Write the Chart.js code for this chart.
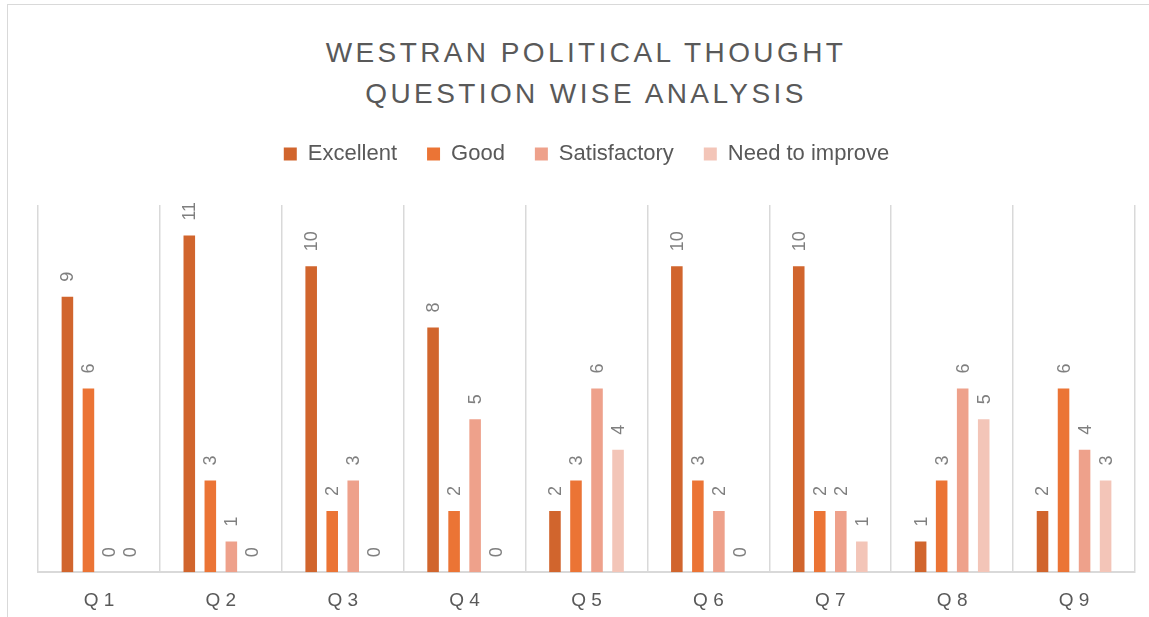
<!DOCTYPE html>
<html>
<head>
<meta charset="utf-8">
<script src="https://cdn.jsdelivr.net/npm/chart.js@4"></script>
<style>
  body { margin: 0; background: #fff; overflow: hidden; }
  #frame { position: absolute; left: 7px; top: 4px; width: 1200px; height: 700px; border: 1px solid #d9d9d9; }
  #title { position: absolute; left: 0; top: 32px; width: 1172px; text-align: center;
           font-family: "Liberation Sans", Arial, sans-serif; font-size: 28px; line-height: 41px;
           letter-spacing: 3.4px; color: #595959; }
  #wrap { position: absolute; left: 0; top: 0; width: 1149px; height: 617px; }
</style>
</head>
<body>
<div id="frame"></div>
<div id="title">WESTRAN POLITICAL THOUGHT<br>QUESTION WISE ANALYSIS</div>
<div id="wrap"><canvas id="chart" width="1149" height="617"></canvas></div>
<script>
const questions     = ['Q 1', 'Q 2', 'Q 3', 'Q 4', 'Q 5', 'Q 6', 'Q 7', 'Q 8', 'Q 9']
const excellent     = [9, 11, 10, 8, 2, 10, 10, 1, 2]
const good          = [6, 3, 2, 2, 3, 3, 2, 3, 6]
const satisfactory  = [0, 1, 3, 5, 6, 2, 2, 6, 4]
const needToImprove = [0, 0, 0, 0, 4, 0, 1, 5, 3]

// value labels, rotated like the original
const barLabels = {
  id: 'barLabels',
  afterDatasetsDraw(chart) {
    const ctx = chart.ctx
    ctx.save()
    ctx.font = '18px "Liberation Sans", Arial, sans-serif'
    ctx.fillStyle = '#7f7f7f'
    ctx.textAlign = 'left'
    ctx.textBaseline = 'middle'
    chart.data.datasets.forEach((ds, i) => {
      chart.getDatasetMeta(i).data.forEach((bar, j) => {
        ctx.save()
        ctx.translate(bar.x, bar.y - 15)
        ctx.rotate(-Math.PI / 2)
        ctx.fillText(String(ds.data[j]), 0, 1)
        ctx.restore()
      })
    })
    ctx.restore()
  }
}

new Chart(document.getElementById('chart'), {
  type: 'bar',
  data: {
    labels: questions,
    datasets: [
      { label: 'Excellent',       data: excellent,     backgroundColor: '#D1652D' },
      { label: 'Good',            data: good,          backgroundColor: '#EB7435' },
      { label: 'Satisfactory',    data: satisfactory,  backgroundColor: '#EEA18B' },
      { label: 'Need to improve', data: needToImprove, backgroundColor: '#F3C5B8' }
    ]
  },
  options: {
    responsive: false,
    animation: false,
    categoryPercentage: 0.69,
    barPercentage: 0.55,
    layout: { padding: { top: 113, left: 38, right: 14, bottom: -12 } },
    plugins: {
      tooltip: { enabled: false },
      legend: {
        position: 'top',
        labels: {
          boxWidth: 13, boxHeight: 13, padding: 30, color: '#595959',
          font: { family: '"Liberation Sans", Arial, sans-serif', size: 22 }
        }
      },
      // empty spacer between legend and plot
      subtitle: { display: true, text: '', weight: 500, font: { size: 1, lineHeight: 1 }, padding: { top: 0, bottom: 29 } }
    },
    scales: {
      x: {
        grid: { color: '#d9d9d9', lineWidth: 1.5, drawTicks: false },
        border: { color: '#d9d9d9', width: 2 },
        ticks: { color: '#595959', padding: 17, font: { family: '"Liberation Sans", Arial, sans-serif', size: 19 } }
      },
      y: { display: false, min: 0, max: 12 }
    }
  },
  plugins: [barLabels]
})
</script>
</body>
</html>
